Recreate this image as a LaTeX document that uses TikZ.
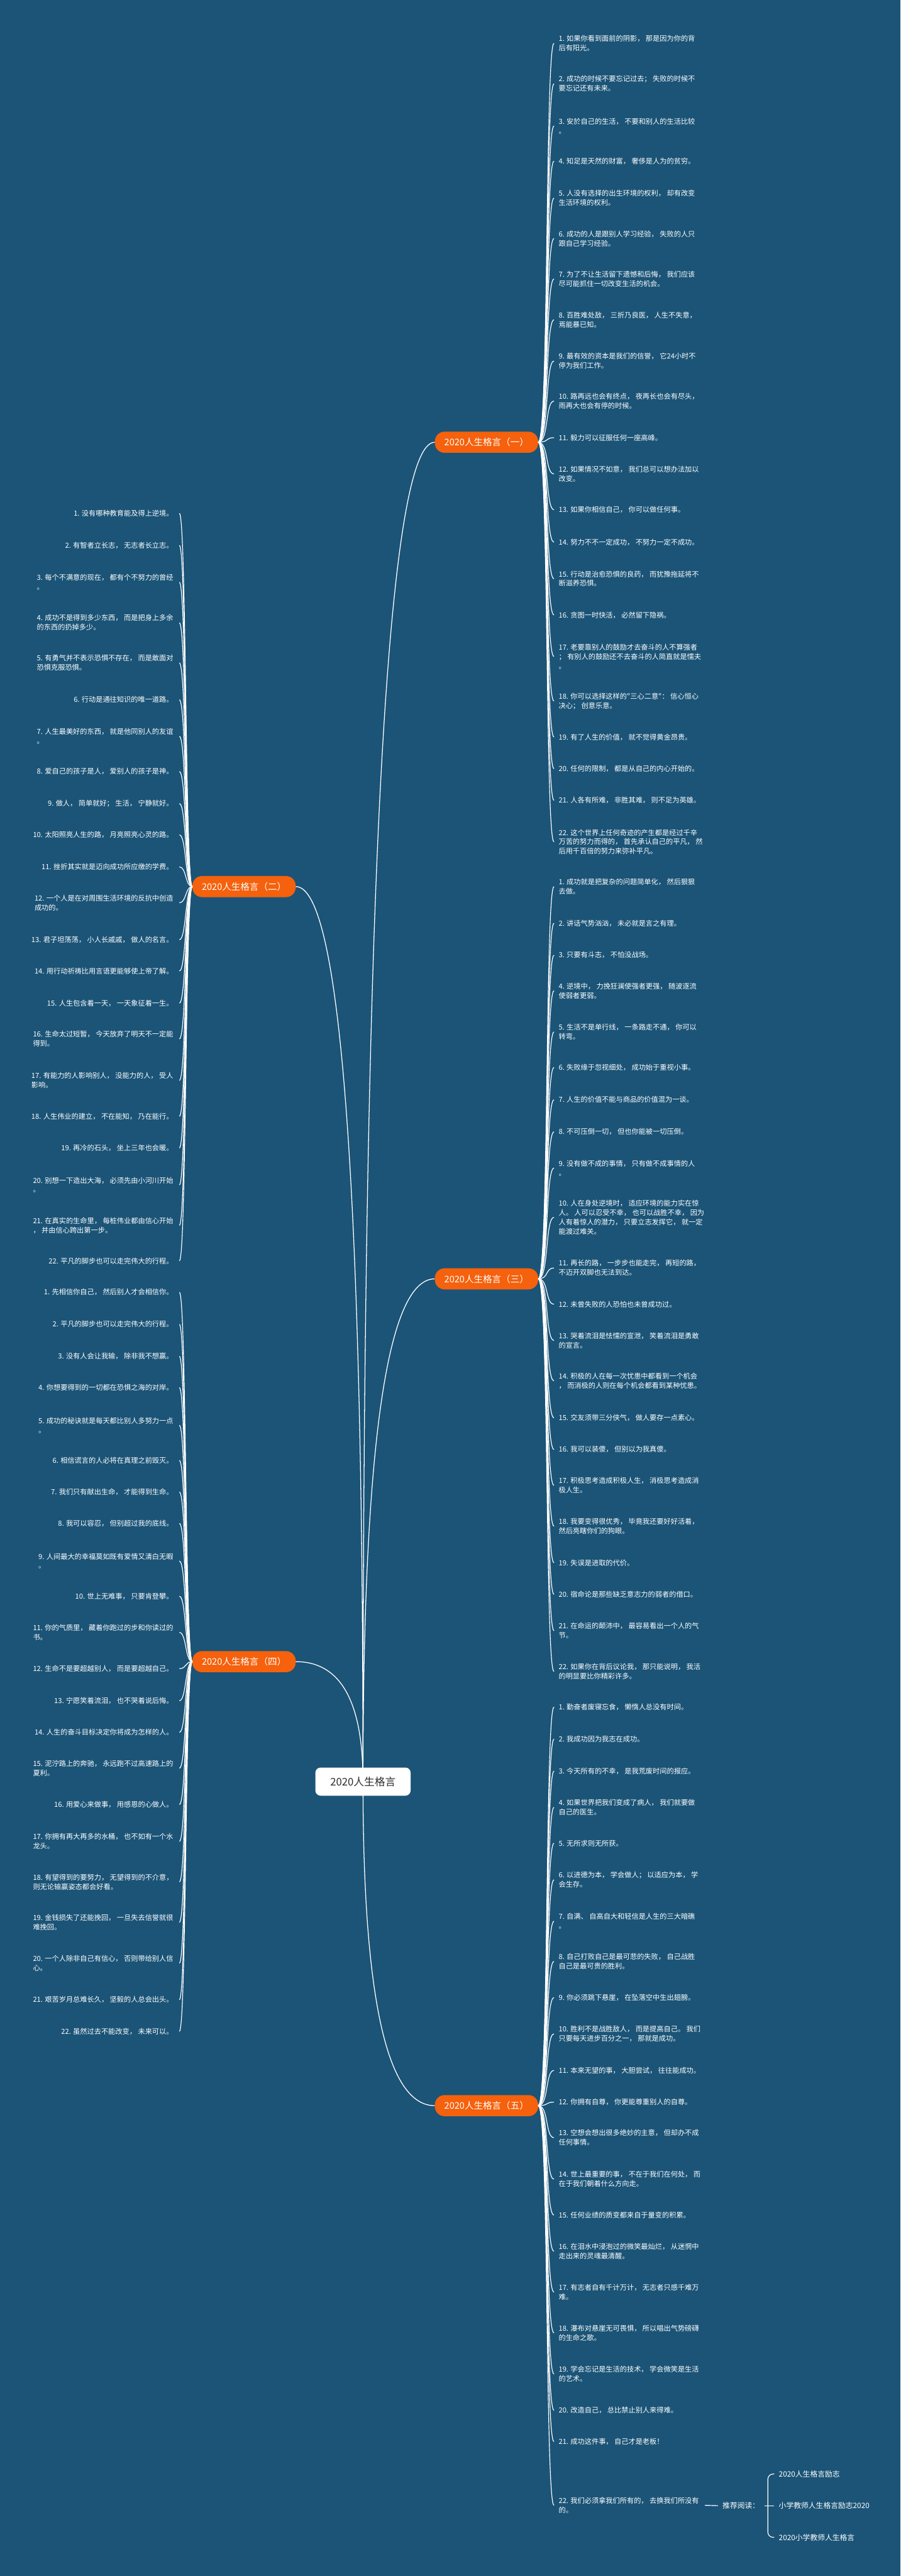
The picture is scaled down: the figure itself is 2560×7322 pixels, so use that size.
\documentclass[tikz,border=0pt]{standalone}
\usepackage{fontspec}
\usepackage{tikz}
\usetikzlibrary{calc}
\newfontfamily\cjk{Noto Sans CJK SC}
\definecolor{mapbg}{RGB}{27,84,119}
\definecolor{branchor}{RGB}{245,97,12}
\definecolor{roottext}{RGB}{45,45,45}
\newcommand\leaffont{\cjk\fontsize{11.4}{15.2}\selectfont}
\newcommand\branchfont{\cjk\fontsize{14.8}{18}\selectfont}
\newcommand\rootfont{\cjk\fontsize{17}{20}\selectfont}
\newcommand\recfont{\cjk\fontsize{12}{15}\selectfont}

\begin{document}
\begin{tikzpicture}[x=0.02cm,y=-0.02cm]
	\tikzset{
		leaf/.style={text=white,font=\leaffont,align=left,inner ysep=2pt},
		rleaf/.style={leaf,anchor=west,inner xsep=0.26cm},
		lleaf/.style={leaf,anchor=east,inner xsep=0.34cm},
		branch/.style={fill=branchor,text=white,rounded corners=0.55cm,minimum height=1.2cm,inner xsep=0.54cm,font=\branchfont},
		rootbox/.style={fill=white,text=roottext,rounded corners=0.3cm,minimum height=1.6cm,minimum width=5.42cm,font=\rootfont},
		rec/.style={text=white,font=\recfont,anchor=west,inner xsep=0.26cm},
		trunk/.style={draw=white,line width=1.3pt},
		twig/.style={draw=white,line width=1.2pt},
		rtwig/.style={twig,to path={(\tikztostart.east) .. controls +(30,0) and +(-25,0) .. (\tikztotarget.west)}},
		ltwig/.style={twig,to path={(\tikztostart.west) .. controls +(-20,0) and +(20,0) .. (\tikztotarget.east)}}
	}
	\useasboundingbox (0,0) rectangle (2560,7322);
	\fill[mapbg] (0,0) rectangle (2560,7322);

	%% branch nodes
	\node[branch,anchor=west] (g1) at (1236,1257) {2020人生格言（一）};
	\node[branch,anchor=east] (g2) at (841,2520) {2020人生格言（二）};
	\node[branch,anchor=west] (g3) at (1236,3635) {2020人生格言（三）};
	\node[branch,anchor=east] (g4) at (841,4723) {2020人生格言（四）};
	\node[branch,anchor=west] (g5) at (1236,5985) {2020人生格言（五）};

	%% curves from the centre, drawn before the centre box
	\coordinate (hub) at (1032,5064);
	\foreach \g/\side in {g1/west,g2/east,g3/west,g4/east,g5/west}
		\draw[trunk] (hub) .. controls ($(hub)!.667!(hub|-\g.\side)$) and ($(\g.\side)!.667!(hub|-\g.\side)$) .. (\g.\side);
	\node[rootbox] (root) at (1032,5064) {2020人生格言};

	%% (一)
	\node[rleaf] (a1) at (1575,123) {1. 如果你看到面前的阴影， 那是因为你的背\\后有阳光。};
	\node[rleaf] (a2) at (1575,238) {2. 成功的时候不要忘记过去； 失败的时候不\\要忘记还有未来。};
	\node[rleaf] (a3) at (1575,358) {3. 安於自己的生活， 不要和别人的生活比较\\。};
	\node[rleaf] (a4) at (1575,458) {4. 知足是天然的财富， 奢侈是人为的贫穷。};
	\node[rleaf] (a5) at (1575,563) {5. 人没有选择的出生环境的权利， 却有改变\\生活环境的权利。};
	\node[rleaf] (a6) at (1575,678) {6. 成功的人是跟别人学习经验， 失败的人只\\跟自己学习经验。};
	\node[rleaf] (a7) at (1575,793) {7. 为了不让生活留下遗憾和后悔， 我们应该\\尽可能抓住一切改变生活的机会。};
	\node[rleaf] (a8) at (1575,909) {8. 百胜难处敌， 三折乃良医， 人生不失意，\\焉能暴已知。};
	\node[rleaf] (a9) at (1575,1026) {9. 最有效的资本是我们的信誉， 它24小时不\\停为我们工作。};
	\node[rleaf] (a10) at (1575,1140) {10. 路再远也会有终点， 夜再长也会有尽头，\\雨再大也会有停的时候。};
	\node[rleaf] (a11) at (1575,1244) {11. 毅力可以征服任何一座高峰。};
	\node[rleaf] (a12) at (1575,1347) {12. 如果情况不如意， 我们总可以想办法加以\\改变。};
	\node[rleaf] (a13) at (1575,1449) {13. 如果你相信自己， 你可以做任何事。};
	\node[rleaf] (a14) at (1575,1541) {14. 努力不不一定成功， 不努力一定不成功。};
	\node[rleaf] (a15) at (1575,1645) {15. 行动是治愈恐惧的良药， 而犹豫拖延将不\\断滋养恐惧。};
	\node[rleaf] (a16) at (1575,1748) {16. 贪图一时快活， 必然留下隐祸。};
	\node[rleaf] (a17) at (1575,1866) {17. 老要靠别人的鼓励才去奋斗的人不算强者\\； 有别人的鼓励还不去奋斗的人简直就是懦夫\\。};
	\node[rleaf] (a18) at (1575,1993) {18. 你可以选择这样的"三心二意"： 信心恒心\\决心； 创意乐意。};
	\node[rleaf] (a19) at (1575,2095) {19. 有了人生的价值， 就不觉得黄金昂贵。};
	\node[rleaf] (a20) at (1575,2185) {20. 任何的限制， 都是从自己的内心开始的。};
	\node[rleaf] (a21) at (1575,2275) {21. 人各有所难， 非胜其难， 则不足为英雄。};
	\node[rleaf] (a22) at (1575,2393) {22. 这个世界上任何奇迹的产生都是经过千辛\\万苦的努力而得的， 首先承认自己的平凡， 然\\后用千百倍的努力来弥补平凡。};

	%% (二)
	\node[lleaf] (b1) at (510,1459) {1. 没有哪种教育能及得上逆境。};
	\node[lleaf] (b2) at (510,1550) {2. 有智者立长志， 无志者长立志。};
	\node[lleaf] (b3) at (510,1655) {3. 每个不满意的现在， 都有个不努力的曾经\\。};
	\node[lleaf] (b4) at (510,1770) {4. 成功不是得到多少东西， 而是把身上多余\\的东西的扔掉多少。};
	\node[lleaf] (b5) at (510,1884) {5. 有勇气并不表示恐惧不存在， 而是敢面对\\恐惧克服恐惧。};
	\node[lleaf] (b6) at (510,1989) {6. 行动是通往知识的唯一道路。};
	\node[lleaf] (b7) at (510,2093) {7. 人生最美好的东西， 就是他同别人的友谊\\。};
	\node[lleaf] (b8) at (510,2193) {8. 爱自己的孩子是人， 爱别人的孩子是神。};
	\node[lleaf] (b9) at (510,2284) {9. 做人， 简单就好； 生活， 宁静就好。};
	\node[lleaf] (b10) at (510,2373) {10. 太阳照亮人生的路， 月亮照亮心灵的路。};
	\node[lleaf] (b11) at (510,2464) {11. 挫折其实就是迈向成功所应缴的学费。};
	\node[lleaf] (b12) at (510,2566) {12. 一个人是在对周围生活环境的反抗中创造\\成功的。};
	\node[lleaf] (b13) at (510,2671) {13. 君子坦荡荡， 小人长戚戚， 做人的名言。};
	\node[lleaf] (b14) at (510,2760) {14. 用行动祈祷比用言语更能够使上帝了解。};
	\node[lleaf] (b15) at (510,2851) {15. 人生包含着一天， 一天象征着一生。};
	\node[lleaf] (b16) at (510,2953) {16. 生命太过短暂， 今天放弃了明天不一定能\\得到。};
	\node[lleaf] (b17) at (510,3071) {17. 有能力的人影响别人， 没能力的人， 受人\\影响。};
	\node[lleaf] (b18) at (510,3173) {18. 人生伟业的建立， 不在能知， 乃在能行。};
	\node[lleaf] (b19) at (510,3263) {19. 再冷的石头， 坐上三年也会暖。};
	\node[lleaf] (b20) at (510,3368) {20. 别想一下造出大海， 必须先由小河川开始\\。};
	\node[lleaf] (b21) at (510,3483) {21. 在真实的生命里， 每桩伟业都由信心开始\\， 并由信心跨出第一步。};
	\node[lleaf] (b22) at (510,3584) {22. 平凡的脚步也可以走完伟大的行程。};

	%% (三)
	\node[rleaf] (c1) at (1575,2520) {1. 成功就是把复杂的问题简单化， 然后狠狠\\去做。};
	\node[rleaf] (c2) at (1575,2624) {2. 讲话气势汹汹， 未必就是言之有理。};
	\node[rleaf] (c3) at (1575,2715) {3. 只要有斗志， 不怕没战场。};
	\node[rleaf] (c4) at (1575,2816) {4. 逆境中， 力挽狂澜使强者更强， 随波逐流\\使弱者更弱。};
	\node[rleaf] (c5) at (1575,2933) {5. 生活不是单行线， 一条路走不通， 你可以\\转弯。};
	\node[rleaf] (c6) at (1575,3034) {6. 失败缘于忽视细处， 成功始于重视小事。};
	\node[rleaf] (c7) at (1575,3126) {7. 人生的价值不能与商品的价值混为一谈。};
	\node[rleaf] (c8) at (1575,3217) {8. 不可压倒一切， 但也你能被一切压倒。};
	\node[rleaf] (c9) at (1575,3320) {9. 没有做不成的事情， 只有做不成事情的人\\。};
	\node[rleaf] (c10) at (1575,3460) {10. 人在身处逆境时， 适应环境的能力实在惊\\人。 人可以忍受不幸， 也可以战胜不幸， 因为\\人有着惊人的潜力， 只要立志发挥它， 就一定\\能渡过难关。};
	\node[rleaf] (c11) at (1575,3604) {11. 再长的路， 一步步也能走完， 再短的路，\\不迈开双脚也无法到达。};
	\node[rleaf] (c12) at (1575,3707) {12. 未曾失败的人恐怕也未曾成功过。};
	\node[rleaf] (c13) at (1575,3810) {13. 哭着流泪是怯懦的宣泄， 笑着流泪是勇敢\\的宣言。};
	\node[rleaf] (c14) at (1575,3925) {14. 积极的人在每一次忧患中都看到一个机会\\， 而消极的人则在每个机会都看到某种忧患。};
	\node[rleaf] (c15) at (1575,4030) {15. 交友须带三分侠气， 做人要存一点素心。};
	\node[rleaf] (c16) at (1575,4120) {16. 我可以装傻， 但别以为我真傻。};
	\node[rleaf] (c17) at (1575,4222) {17. 积极思考造成积极人生， 消极思考造成消\\极人生。};
	\node[rleaf] (c18) at (1575,4338) {18. 我要变得很优秀， 毕竟我还要好好活着，\\然后亮瞎你们的狗眼。};
	\node[rleaf] (c19) at (1575,4442) {19. 失误是进取的代价。};
	\node[rleaf] (c20) at (1575,4532) {20. 宿命论是那些缺乏意志力的弱者的借口。};
	\node[rleaf] (c21) at (1575,4635) {21. 在命运的颠沛中， 最容易看出一个人的气\\节。};
	\node[rleaf] (c22) at (1575,4751) {22. 如果你在背后议论我， 那只能说明， 我活\\的明显要比你精彩许多。};

	%% (四)
	\node[lleaf] (d1) at (510,3673) {1. 先相信你自己， 然后别人才会相信你。};
	\node[lleaf] (d2) at (510,3764) {2. 平凡的脚步也可以走完伟大的行程。};
	\node[lleaf] (d3) at (510,3855) {3. 没有人会让我输， 除非我不想赢。};
	\node[lleaf] (d4) at (510,3944) {4. 你想要得到的一切都在恐惧之海的对岸。};
	\node[lleaf] (d5) at (510,4051) {5. 成功的秘诀就是每天都比别人多努力一点\\。};
	\node[lleaf] (d6) at (510,4151) {6. 相信谎言的人必将在真理之前毁灭。};
	\node[lleaf] (d7) at (510,4241) {7. 我们只有献出生命， 才能得到生命。};
	\node[lleaf] (d8) at (510,4330) {8. 我可以容忍， 但别超过我的底线。};
	\node[lleaf] (d9) at (510,4437) {9. 人间最大的幸福莫如既有爱情又清白无暇\\。};
	\node[lleaf] (d10) at (510,4537) {10. 世上无难事， 只要肯登攀。};
	\node[lleaf] (d11) at (510,4640) {11. 你的气质里， 藏着你跑过的步和你读过的\\书。};
	\node[lleaf] (d12) at (510,4743) {12. 生命不是要超越别人， 而是要超越自己。};
	\node[lleaf] (d13) at (510,4834) {13. 宁愿笑着流泪， 也不哭着说后悔。};
	\node[lleaf] (d14) at (510,4924) {14. 人生的奋斗目标决定你将成为怎样的人。};
	\node[lleaf] (d15) at (510,5026) {15. 泥泞路上的奔驰， 永远跑不过高速路上的\\夏利。};
	\node[lleaf] (d16) at (510,5129) {16. 用爱心来做事， 用感恩的心做人。};
	\node[lleaf] (d17) at (510,5234) {17. 你拥有再大再多的水桶， 也不如有一个水\\龙头。};
	\node[lleaf] (d18) at (510,5349) {18. 有望得到的要努力， 无望得到的不介意，\\则无论输赢姿态都会好看。};
	\node[lleaf] (d19) at (510,5464) {19. 金钱损失了还能挽回， 一旦失去信誉就很\\难挽回。};
	\node[lleaf] (d20) at (510,5580) {20. 一个人除非自己有信心， 否则带给别人信\\心。};
	\node[lleaf] (d21) at (510,5684) {21. 艰苦岁月总难长久， 坚毅的人总会出头。};
	\node[lleaf] (d22) at (510,5774) {22. 虽然过去不能改变， 未来可以。};

	%% (五)
	\node[rleaf] (e1) at (1575,4852) {1. 勤奋者废寝忘食， 懒惰人总没有时间。};
	\node[rleaf] (e2) at (1575,4943) {2. 我成功因为我志在成功。};
	\node[rleaf] (e3) at (1575,5034) {3. 今天所有的不幸， 是我荒废时间的报应。};
	\node[rleaf] (e4) at (1575,5137) {4. 如果世界把我们变成了病人， 我们就要做\\自己的医生。};
	\node[rleaf] (e5) at (1575,5239) {5. 无所求则无所获。};
	\node[rleaf] (e6) at (1575,5343) {6. 以进德为本， 学会做人； 以适应为本， 学\\会生存。};
	\node[rleaf] (e7) at (1575,5461) {7. 自满、 自高自大和轻信是人生的三大暗礁\\。};
	\node[rleaf] (e8) at (1575,5575) {8. 自己打败自己是最可悲的失败， 自己战胜\\自己是最可贵的胜利。};
	\node[rleaf] (e9) at (1575,5678) {9. 你必须跳下悬崖， 在坠落空中生出翅膀。};
	\node[rleaf] (e10) at (1575,5781) {10. 胜利不是战胜敌人， 而是提高自己。 我们\\只要每天进步百分之一， 那就是成功。};
	\node[rleaf] (e11) at (1575,5885) {11. 本来无望的事， 大胆尝试， 往往能成功。};
	\node[rleaf] (e12) at (1575,5975) {12. 你拥有自尊， 你更能尊重别人的自尊。};
	\node[rleaf] (e13) at (1575,6076) {13. 空想会想出很多绝妙的主意， 但却办不成\\任何事情。};
	\node[rleaf] (e14) at (1575,6194) {14. 世上最重要的事， 不在于我们在何处， 而\\在于我们朝着什么方向走。};
	\node[rleaf] (e15) at (1575,6296) {15. 任何业绩的质变都来自于量变的积累。};
	\node[rleaf] (e16) at (1575,6399) {16. 在泪水中浸泡过的微笑最灿烂， 从迷惘中\\走出来的灵魂最清醒。};
	\node[rleaf] (e17) at (1575,6515) {17. 有志者自有千计万计， 无志者只感千难万\\难。};
	\node[rleaf] (e18) at (1575,6631) {18. 瀑布对悬崖无可畏惧， 所以唱出气势磅礴\\的生命之歌。};
	\node[rleaf] (e19) at (1575,6748) {19. 学会忘记是生活的技术， 学会微笑是生活\\的艺术。};
	\node[rleaf] (e20) at (1575,6851) {20. 改造自己， 总比禁止别人来得难。};
	\node[rleaf] (e21) at (1575,6940) {21. 成功这件事， 自己才是老板！};
	\node[rleaf] (e22) at (1575,7121) {22. 我们必须拿我们所有的， 去换我们所没有\\的。};

	%% recommended reading
	\node[rec] (rec) at (2041,7122) {推荐阅读：};
	\node[rec] (k1) at (2201,7032) {2020人生格言励志};
	\node[rec] (k2) at (2201,7122) {小学教师人生格言励志2020};
	\node[rec] (k3) at (2201,7212) {2020小学教师人生格言};
	\coordinate (jn) at (2183,7122);

	%% connectors
	\path[rtwig] (g1) edge (a1) edge (a2) edge (a3) edge (a4) edge (a5) edge (a6) edge (a7) edge (a8) edge (a9) edge (a10) edge (a11)
		edge (a12) edge (a13) edge (a14) edge (a15) edge (a16) edge (a17) edge (a18) edge (a19) edge (a20) edge (a21) edge (a22);
	\path[ltwig] (g2) edge (b1) edge (b2) edge (b3) edge (b4) edge (b5) edge (b6) edge (b7) edge (b8) edge (b9) edge (b10) edge (b11)
		edge (b12) edge (b13) edge (b14) edge (b15) edge (b16) edge (b17) edge (b18) edge (b19) edge (b20) edge (b21) edge (b22);
	\path[rtwig] (g3) edge (c1) edge (c2) edge (c3) edge (c4) edge (c5) edge (c6) edge (c7) edge (c8) edge (c9) edge (c10) edge (c11)
		edge (c12) edge (c13) edge (c14) edge (c15) edge (c16) edge (c17) edge (c18) edge (c19) edge (c20) edge (c21) edge (c22);
	\path[ltwig] (g4) edge (d1) edge (d2) edge (d3) edge (d4) edge (d5) edge (d6) edge (d7) edge (d8) edge (d9) edge (d10) edge (d11)
		edge (d12) edge (d13) edge (d14) edge (d15) edge (d16) edge (d17) edge (d18) edge (d19) edge (d20) edge (d21) edge (d22);
	\path[rtwig] (g5) edge (e1) edge (e2) edge (e3) edge (e4) edge (e5) edge (e6) edge (e7) edge (e8) edge (e9) edge (e10) edge (e11)
		edge (e12) edge (e13) edge (e14) edge (e15) edge (e16) edge (e17) edge (e18) edge (e19) edge (e20) edge (e21) edge (e22);
	\draw[twig] ([xshift=0.06cm]e22.east) -- (rec.west);
	\draw[twig] (rec.east) -- (k2.west);
	\draw[twig,rounded corners=0.3cm] (k1.west) -| (jn) |- (k3.west);
\end{tikzpicture}
\end{document}
